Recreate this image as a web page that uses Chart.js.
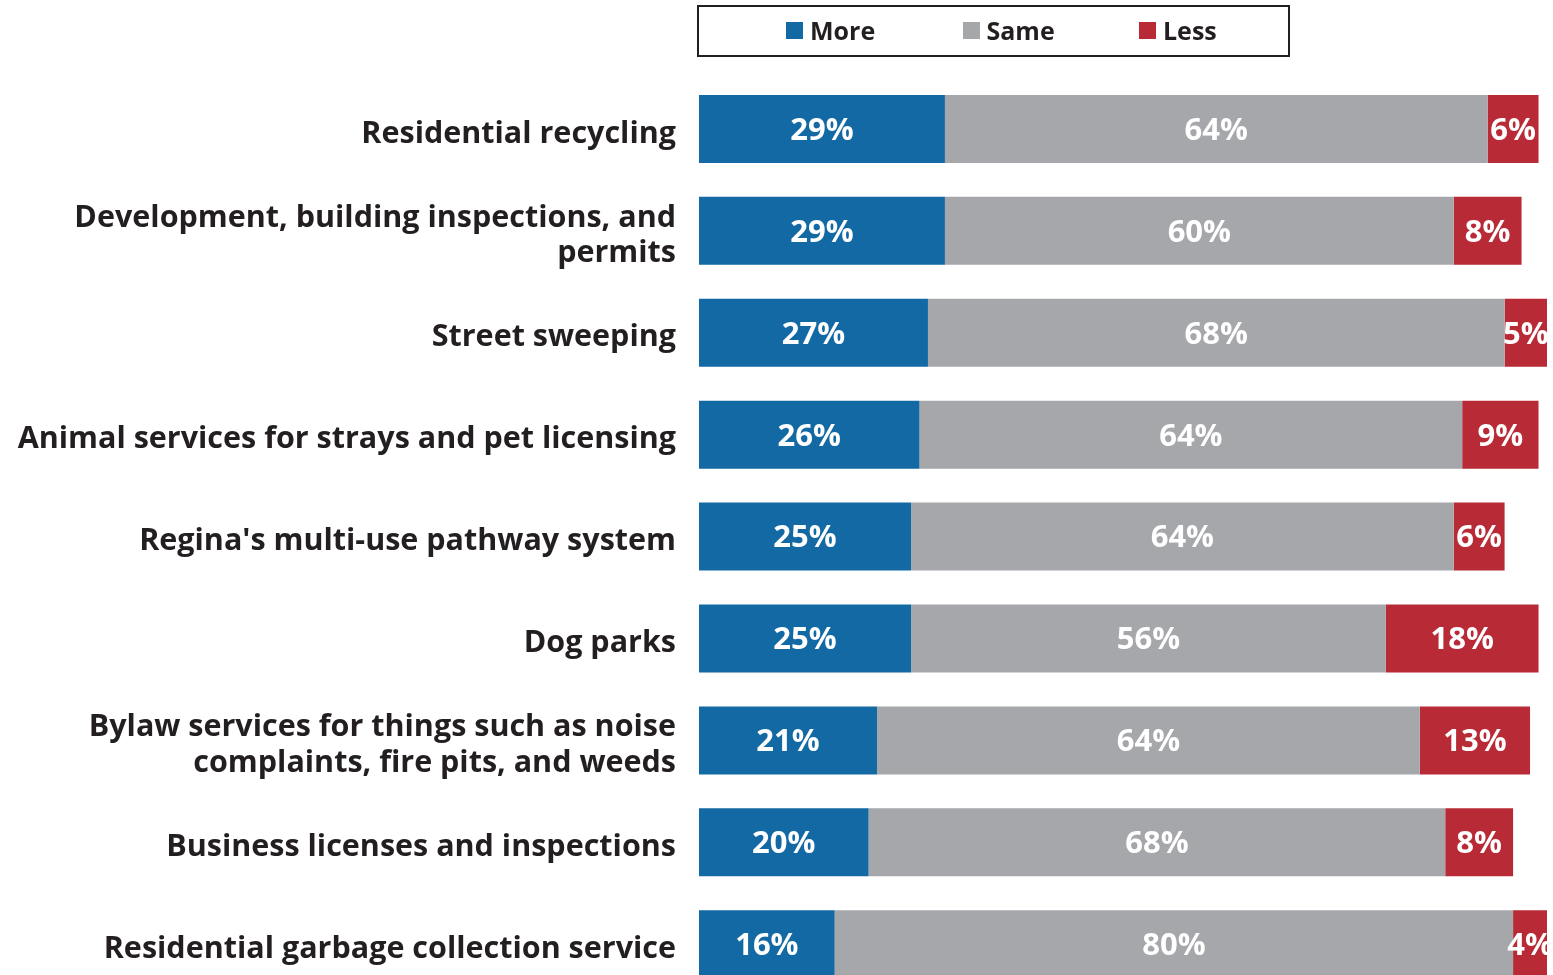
<!DOCTYPE html>
<html>
<head>
<meta charset="utf-8">
<script src="https://cdn.jsdelivr.net/npm/chart.js@4.4.1/dist/chart.umd.min.js"></script>
<style>
  html, body { margin: 0; padding: 0; background: #fff; overflow: hidden; }
  #wrap { position: relative; width: 1553px; height: 975px; overflow: hidden; }
  #serviceChart { position: absolute; left: 0; top: 0; }
  #legend {
    position: absolute; left: 697px; top: 5px; width: 593px; height: 52px;
    border: 2px solid #231f20; display: flex; align-items: center;
    padding-left: 87px; padding-bottom: 3px; box-sizing: border-box;
    font-family: 'Open Sans', sans-serif; font-weight: bold; font-size: 25px; color: #231f20;
  }
  #legend .item { width: 176.5px; display: flex; align-items: center; flex: none; }
  #legend .swatch { width: 17px; height: 17px; margin-right: 7px; margin-top: 2px; }
</style>
</head>
<body>
<div id="wrap">
  <canvas id="serviceChart" width="1553" height="1036"></canvas>
  <div id="legend"></div>
</div>
<script>
const categories = [
    'Residential recycling',
    ['Development, building inspections, and', 'permits'],
    'Street sweeping',
    'Animal services for strays and pet licensing',
    "Regina's multi-use pathway system",
    'Dog parks',
    ['Bylaw services for things such as noise', 'complaints, fire pits, and weeds'],
    'Business licenses and inspections',
    'Residential garbage collection service'
];
const moreValues = [29, 29, 27, 26, 25, 25, 21, 20, 16];
const sameValues = [64, 60, 68, 64, 64, 56, 64, 68, 80];
const lessValues = [6, 8, 5, 9, 6, 18, 13, 8, 4];
const seriesNames = ['More', 'Same', 'Less'];
const seriesColors = ['#1369a4', '#a6a7ab', '#b82a35'];

const FONT = "'Open Sans', sans-serif";

// white percentage labels centred inside each segment
const segmentLabels = {
    id: 'segmentLabels',
    afterDatasetsDraw(chart) {
        const ctx = chart.ctx;
        ctx.save();
        ctx.fillStyle = '#ffffff';
        ctx.font = `bold 31px ${FONT}`;
        ctx.textAlign = 'center';
        ctx.textBaseline = 'middle';
        chart.data.datasets.forEach((ds, i) => {
            const meta = chart.getDatasetMeta(i);
            meta.data.forEach((bar, j) => {
                const v = ds.data[j];
                if (!v) return;
                ctx.fillText(v + '%', (bar.x + bar.base) / 2, bar.y + 2);
            });
        });
        ctx.restore();
    }
};

const datasets = [moreValues, sameValues, lessValues].map((values, i) => ({
    label: seriesNames[i],
    data: values,
    backgroundColor: seriesColors[i],
    borderWidth: 0,
    barPercentage: 0.667,
    categoryPercentage: 1
}));

new Chart(document.getElementById('serviceChart'), {
    type: 'bar',
    data: { labels: categories, datasets },
    options: {
        indexAxis: 'y',
        responsive: false,
        animation: false,
        layout: { padding: { top: 78, right: 6, bottom: 4, left: 0 } },
        plugins: {
            legend: { display: false },
            tooltip: { enabled: false }
        },
        scales: {
            x: {
                stacked: true,
                display: false,
                min: 0,
                max: 100
            },
            y: {
                stacked: true,
                grid: { display: false, drawTicks: false },
                border: { display: false },
                ticks: {
                    color: '#231f20',
                    padding: 23,
                    labelOffset: 5,
                    font: { family: FONT, weight: 'bold', size: 30.5, lineHeight: 1.17 }
                },
                afterFit(scale) { scale.width = 699; }
            }
        }
    },
    plugins: [segmentLabels]
});

const legendEl = document.getElementById('legend');
seriesNames.forEach((name, i) => {
    const item = document.createElement('div');
    item.className = 'item';
    const sw = document.createElement('span');
    sw.className = 'swatch';
    sw.style.background = seriesColors[i];
    item.appendChild(sw);
    item.appendChild(document.createTextNode(name));
    legendEl.appendChild(item);
});
</script>
</body>
</html>
